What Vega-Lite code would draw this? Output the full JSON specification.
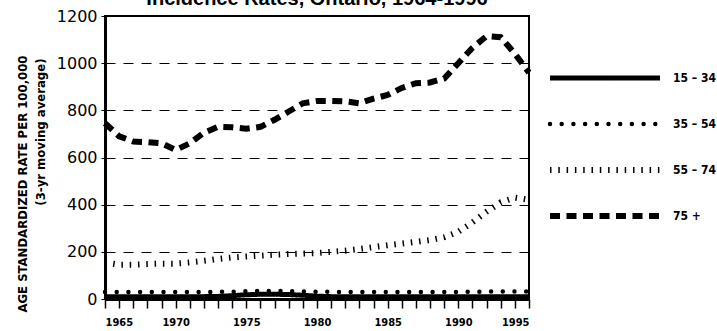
{
  "$schema": "https://vega.github.io/schema/vega-lite/v6.json",
  "width": 424,
  "height": 283,
  "autosize": "none",
  "padding": {"left": 105, "top": 16, "right": 188, "bottom": 32},
  "background": "white",
  "title": {
    "text": "Incidence Rates, Ontario, 1964-1996",
    "font": "Liberation Sans",
    "fontSize": 20,
    "fontWeight": "bold",
    "color": "black",
    "anchor": "middle",
    "frame": "group",
    "baseline": "alphabetic",
    "offset": 0,
    "dy": 17
  },
  "datasets": {
    "d": [
      {"year":1965,"group":"15 – 34","rate":10},{"year":1966,"group":"15 – 34","rate":10},{"year":1967,"group":"15 – 34","rate":10},{"year":1968,"group":"15 – 34","rate":10},{"year":1969,"group":"15 – 34","rate":10},{"year":1970,"group":"15 – 34","rate":10},{"year":1971,"group":"15 – 34","rate":10},{"year":1972,"group":"15 – 34","rate":10},{"year":1973,"group":"15 – 34","rate":11},{"year":1974,"group":"15 – 34","rate":14},{"year":1975,"group":"15 – 34","rate":18},{"year":1976,"group":"15 – 34","rate":20},{"year":1977,"group":"15 – 34","rate":20},{"year":1978,"group":"15 – 34","rate":19},{"year":1979,"group":"15 – 34","rate":16},{"year":1980,"group":"15 – 34","rate":12},{"year":1981,"group":"15 – 34","rate":10},{"year":1982,"group":"15 – 34","rate":10},{"year":1983,"group":"15 – 34","rate":10},{"year":1984,"group":"15 – 34","rate":10},{"year":1985,"group":"15 – 34","rate":10},{"year":1986,"group":"15 – 34","rate":10},{"year":1987,"group":"15 – 34","rate":10},{"year":1988,"group":"15 – 34","rate":10},{"year":1989,"group":"15 – 34","rate":10},{"year":1990,"group":"15 – 34","rate":10},{"year":1991,"group":"15 – 34","rate":10},{"year":1992,"group":"15 – 34","rate":10},{"year":1993,"group":"15 – 34","rate":10},{"year":1994,"group":"15 – 34","rate":10},{"year":1995,"group":"15 – 34","rate":10},
      {"year":1965,"group":"35 – 54","rate":30},{"year":1966,"group":"35 – 54","rate":30},{"year":1967,"group":"35 – 54","rate":30},{"year":1968,"group":"35 – 54","rate":30},{"year":1969,"group":"35 – 54","rate":30},{"year":1970,"group":"35 – 54","rate":30},{"year":1971,"group":"35 – 54","rate":30},{"year":1972,"group":"35 – 54","rate":30},{"year":1973,"group":"35 – 54","rate":30},{"year":1974,"group":"35 – 54","rate":31},{"year":1975,"group":"35 – 54","rate":33},{"year":1976,"group":"35 – 54","rate":34},{"year":1977,"group":"35 – 54","rate":34},{"year":1978,"group":"35 – 54","rate":33},{"year":1979,"group":"35 – 54","rate":32},{"year":1980,"group":"35 – 54","rate":31},{"year":1981,"group":"35 – 54","rate":30},{"year":1982,"group":"35 – 54","rate":30},{"year":1983,"group":"35 – 54","rate":30},{"year":1984,"group":"35 – 54","rate":30},{"year":1985,"group":"35 – 54","rate":30},{"year":1986,"group":"35 – 54","rate":30},{"year":1987,"group":"35 – 54","rate":30},{"year":1988,"group":"35 – 54","rate":30},{"year":1989,"group":"35 – 54","rate":30},{"year":1990,"group":"35 – 54","rate":30},{"year":1991,"group":"35 – 54","rate":31},{"year":1992,"group":"35 – 54","rate":31},{"year":1993,"group":"35 – 54","rate":32},{"year":1994,"group":"35 – 54","rate":32},{"year":1995,"group":"35 – 54","rate":32},
      {"year":1965,"group":"55 – 74","rate":155},{"year":1966,"group":"55 – 74","rate":145},{"year":1967,"group":"55 – 74","rate":145},{"year":1968,"group":"55 – 74","rate":148},{"year":1969,"group":"55 – 74","rate":150},{"year":1970,"group":"55 – 74","rate":150},{"year":1971,"group":"55 – 74","rate":155},{"year":1972,"group":"55 – 74","rate":162},{"year":1973,"group":"55 – 74","rate":170},{"year":1974,"group":"55 – 74","rate":176},{"year":1975,"group":"55 – 74","rate":180},{"year":1976,"group":"55 – 74","rate":184},{"year":1977,"group":"55 – 74","rate":188},{"year":1978,"group":"55 – 74","rate":191},{"year":1979,"group":"55 – 74","rate":193},{"year":1980,"group":"55 – 74","rate":195},{"year":1981,"group":"55 – 74","rate":200},{"year":1982,"group":"55 – 74","rate":205},{"year":1983,"group":"55 – 74","rate":212},{"year":1984,"group":"55 – 74","rate":220},{"year":1985,"group":"55 – 74","rate":228},{"year":1986,"group":"55 – 74","rate":235},{"year":1987,"group":"55 – 74","rate":242},{"year":1988,"group":"55 – 74","rate":250},{"year":1989,"group":"55 – 74","rate":262},{"year":1990,"group":"55 – 74","rate":285},{"year":1991,"group":"55 – 74","rate":325},{"year":1992,"group":"55 – 74","rate":370},{"year":1993,"group":"55 – 74","rate":410},{"year":1994,"group":"55 – 74","rate":430},{"year":1995,"group":"55 – 74","rate":420},
      {"year":1965,"group":"75 +","rate":745},{"year":1966,"group":"75 +","rate":690},{"year":1967,"group":"75 +","rate":668},{"year":1968,"group":"75 +","rate":665},{"year":1969,"group":"75 +","rate":660},{"year":1970,"group":"75 +","rate":632},{"year":1971,"group":"75 +","rate":660},{"year":1972,"group":"75 +","rate":705},{"year":1973,"group":"75 +","rate":730},{"year":1974,"group":"75 +","rate":728},{"year":1975,"group":"75 +","rate":722},{"year":1976,"group":"75 +","rate":730},{"year":1977,"group":"75 +","rate":760},{"year":1978,"group":"75 +","rate":795},{"year":1979,"group":"75 +","rate":830},{"year":1980,"group":"75 +","rate":840},{"year":1981,"group":"75 +","rate":840},{"year":1982,"group":"75 +","rate":838},{"year":1983,"group":"75 +","rate":830},{"year":1984,"group":"75 +","rate":850},{"year":1985,"group":"75 +","rate":865},{"year":1986,"group":"75 +","rate":895},{"year":1987,"group":"75 +","rate":915},{"year":1988,"group":"75 +","rate":918},{"year":1989,"group":"75 +","rate":935},{"year":1990,"group":"75 +","rate":1000},{"year":1991,"group":"75 +","rate":1065},{"year":1992,"group":"75 +","rate":1115},{"year":1993,"group":"75 +","rate":1110},{"year":1994,"group":"75 +","rate":1040},{"year":1995,"group":"75 +","rate":960}
    ]
  },
  "data": {"name": "d"},
  "encoding": {
    "x": {
      "field": "year", "type": "quantitative",
      "scale": {"domain": [1965, 1995], "nice": false, "zero": false},
      "axis": {
        "title": null,
        "values": [1965,1966,1967,1968,1969,1970,1971,1972,1973,1974,1975,1976,1977,1978,1979,1980,1981,1982,1983,1984,1985,1986,1987,1988,1989,1990,1991,1992,1993,1994,1995],
        "format": "d",
        "labelExpr": "datum.value % 5 === 0 ? datum.label : ''",
        "labelFont": "DejaVu Sans Condensed, sans-serif",
        "labelFontSize": 11,
        "labelFontWeight": "bold",
        "labelColor": "black",
        "labelPadding": 8,
        "labelOverlap": false,
        "tickSize": 9,
        "tickWidth": 1.5,
        "tickColor": "black",
        "domainWidth": 3,
        "domainColor": "black",
        "grid": false
      }
    },
    "strokeDash": {
      "field": "group", "type": "nominal",
      "scale": {"domain": ["15 – 34", "35 – 54", "55 – 74", "75 +"], "range": [[1, 0], [0, 11.7], [1.5, 6.8], [10, 6.5]]},
      "legend": {
        "title": null,
        "orient": "none",
        "legendX": 442,
        "legendY": 54,
        "symbolType": "stroke",
        "symbolSize": 12100,
        "clipHeight": 16,
        "symbolStrokeColor": "black",
        "labelFont": "DejaVu Sans Condensed, sans-serif",
        "labelFontSize": 12,
        "labelFontWeight": "bold",
        "labelColor": "black",
        "labelOffset": 10,
        "rowPadding": 30,
        "encode": {"symbols": {"update": {"strokeCap": {"signal": "datum.value === '35 – 54' ? 'round' : 'butt'"}}}}
      }
    },
    "strokeWidth": {
      "field": "group", "type": "ordinal",
      "scale": {"type": "ordinal", "domain": ["15 – 34", "35 – 54", "55 – 74", "75 +"], "range": [5, 4.5, 6, 6]},
      "legend": {
        "title": null,
        "orient": "none",
        "legendX": 442,
        "legendY": 54,
        "symbolType": "stroke",
        "symbolSize": 12100,
        "clipHeight": 16,
        "symbolStrokeColor": "black",
        "labelFont": "DejaVu Sans Condensed, sans-serif",
        "labelFontSize": 12,
        "labelFontWeight": "bold",
        "labelColor": "black",
        "labelOffset": 10,
        "rowPadding": 30,
        "encode": {"symbols": {"update": {"strokeCap": {"signal": "datum.value === '35 – 54' ? 'round' : 'butt'"}}}}
      }
    }
  },
  "layer": [
    {
      "transform": [{"filter": "datum.group === '15 – 34'"}],
      "mark": {"type": "line", "color": "black", "strokeCap": "butt"},
      "encoding": {
        "y": {
          "field": "rate", "type": "quantitative",
          "scale": {"domain": [0, 1200], "nice": false},
          "axis": {
            "values": [0, 200, 400, 600, 800, 1000, 1200],
            "format": "d",
            "title": "AGE STANDARDIZED RATE PER 100,000",
            "titleFont": "DejaVu Sans Condensed, sans-serif",
            "titleFontSize": 13,
            "titleFontWeight": "bold",
            "titleColor": "black",
            "titleAngle": -90,
            "titleAlign": "right",
            "titleBaseline": "middle",
            "titleX": -83,
            "titleY": 39,
            "labelFont": "DejaVu Sans",
            "labelFontSize": 16,
            "labelColor": "black",
            "labelPadding": 4,
            "tickSize": 4,
            "tickColor": "black",
            "tickWidth": 1,
            "domainWidth": 3,
            "domainColor": "black",
            "grid": true,
            "gridColor": "black",
            "gridOpacity": 1,
            "gridWidth": 1,
            "gridDash": [10, 8]
          }
        }
      }
    },
    {
      "transform": [{"filter": "datum.group === '35 – 54'"}],
      "mark": {"type": "line", "color": "black", "strokeCap": "round"},
      "encoding": {
        "y": {
          "field": "rate", "type": "quantitative",
          "axis": {
            "orient": "right",
            "title": "(3-yr moving average)",
            "titleFont": "DejaVu Sans Condensed, sans-serif",
            "titleFontSize": 13,
            "titleFontWeight": "bold",
            "titleColor": "black",
            "titleAngle": -90,
            "titleAlign": "right",
            "titleBaseline": "middle",
            "titleX": -489,
            "titleY": 42,
            "labels": false,
            "ticks": false,
            "domain": false,
            "grid": false
          }
        }
      }
    },
    {
      "transform": [{"filter": "datum.group === '55 – 74'"}],
      "mark": {"type": "line", "color": "black", "strokeCap": "butt"},
      "encoding": {"y": {"field": "rate", "type": "quantitative", "axis": null}}
    },
    {
      "transform": [{"filter": "datum.group === '75 +'"}],
      "mark": {"type": "line", "color": "black", "strokeCap": "butt"},
      "encoding": {"y": {"field": "rate", "type": "quantitative", "axis": null}}
    }
  ],
  "resolve": {"axis": {"y": "independent"}},
  "config": {
    "view": {"stroke": "black", "strokeWidth": 2}
  }
}
